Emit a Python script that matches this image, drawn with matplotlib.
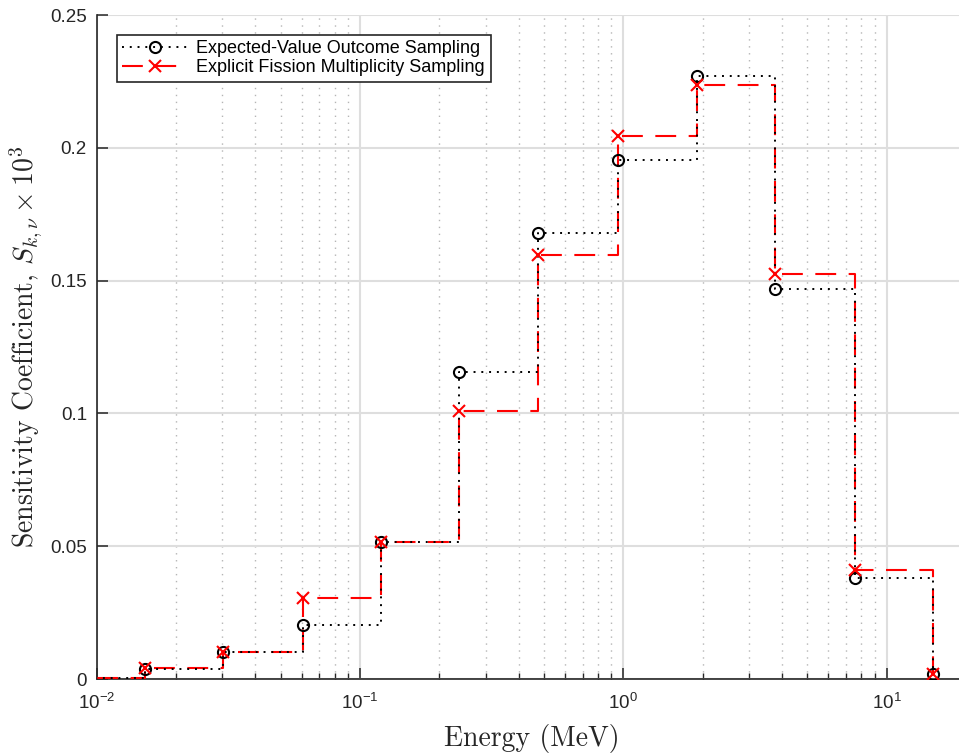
import matplotlib
matplotlib.use("Agg")
import matplotlib.pyplot as plt
from matplotlib.lines import Line2D
from matplotlib.ticker import FixedLocator, FixedFormatter, LogLocator

plt.rcParams['font.family'] = ['Liberation Sans', 'DejaVu Sans']
plt.rcParams['mathtext.fontset'] = 'custom'
plt.rcParams['mathtext.rm'] = 'Liberation Sans'
plt.rcParams['mathtext.it'] = 'Liberation Sans:italic'

# left bin edges (MeV), step values held to the next edge
energy = [0.0075, 0.0152, 0.0303, 0.0605, 0.120, 0.238, 0.475, 0.95, 1.90, 3.78, 7.55, 15.0]
expected = [0.0005, 0.0038, 0.0103, 0.0205, 0.0515, 0.1155, 0.168, 0.1955, 0.227, 0.147, 0.038, 0.002]
explicit = [0.0005, 0.0040, 0.0102, 0.0305, 0.0515, 0.101, 0.1595, 0.2045, 0.2235, 0.1525, 0.041, 0.002]

y_ticks = [0, 0.05, 0.1, 0.15, 0.2, 0.25]
y_labels = ["0", "0.05", "0.1", "0.15", "0.2", "0.25"]

fig = plt.figure(figsize=(9.59, 7.53), dpi=100)
ax = fig.add_axes([96.7 / 959, 74 / 753, (966 - 96.7) / 959, 664 / 753])

red_dash = (0, (10, 6))
black_dot = (0, (1, 3))

# lines
ax.step(energy, explicit, where='post', color='red', lw=1.5, ls=red_dash, zorder=3)
ax.step(energy, expected, where='post', color='black', lw=1.4, ls=black_dot, zorder=4)
# markers
ax.plot(energy, expected, ls='none', marker='o', ms=8, mfc='none', mec='black', mew=1.5, zorder=5)
ax.plot(energy, explicit, ls='none', marker='x', ms=8, mec='red', mew=1.5, zorder=6)

ax.set_xscale('log')
ax.set_xlim(0.01, 20)
ax.set_ylim(0, 0.25)
ax.yaxis.set_major_locator(FixedLocator(y_ticks))
ax.yaxis.set_major_formatter(FixedFormatter(y_labels))
ax.xaxis.set_major_locator(LogLocator(base=10, numticks=10))
ax.xaxis.set_minor_locator(LogLocator(base=10, subs=range(2, 10), numticks=20))

ax.grid(which='major', color='#dedede', lw=1.5, ls='-', zorder=0)
ax.xaxis.grid(True, which='minor', color='#b5b5b5', lw=1.0, ls=(0, (1, 4)))
ax.set_axisbelow(True)

for s in ['top', 'right']:
    ax.spines[s].set_visible(False)
for s in ['left', 'bottom']:
    ax.spines[s].set_color('#262626')
    ax.spines[s].set_linewidth(1.2)

ax.tick_params(which='major', direction='in', length=8, width=1.1, color='#262626',
               labelsize=13.5, labelcolor='#262626', pad=7)
ax.tick_params(axis='x', which='major', pad=10)
ax.tick_params(which='minor', direction='in', length=4.5, width=1.0, color='#262626')
ax.tick_params(axis='y', which='minor', left=False)

ax.set_xlabel("Energy (MeV)", fontfamily='cmr10', fontsize=20, color='#262626', labelpad=8)
ax.set_ylabel(r"Sensitivity Coefficient, $S_{k,\nu} \times 10^3$", fontfamily='cmr10',
              math_fontfamily='cm', fontsize=20, color='#262626', labelpad=4)

handles = [
    Line2D([], [], color='black', ls=black_dot, lw=1.4, marker='o', ms=8, mfc='none', mec='black', mew=1.5),
    Line2D([], [], color='red', ls=red_dash, lw=1.5, marker='x', ms=8, mec='red', mew=1.5),
]
leg = ax.legend(handles, ["Expected-Value Outcome Sampling", "Explicit Fission Multiplicity Sampling"],
                loc='upper left', bbox_to_anchor=(0.0234, 0.97), fontsize=13, frameon=True,
                fancybox=False, framealpha=1, edgecolor='#262626', handlelength=3.6,
                labelspacing=0.1, borderpad=0.3, handletextpad=0.5, borderaxespad=0)
leg.get_frame().set_linewidth(1.2)

fig.savefig("out.png", dpi=100)
